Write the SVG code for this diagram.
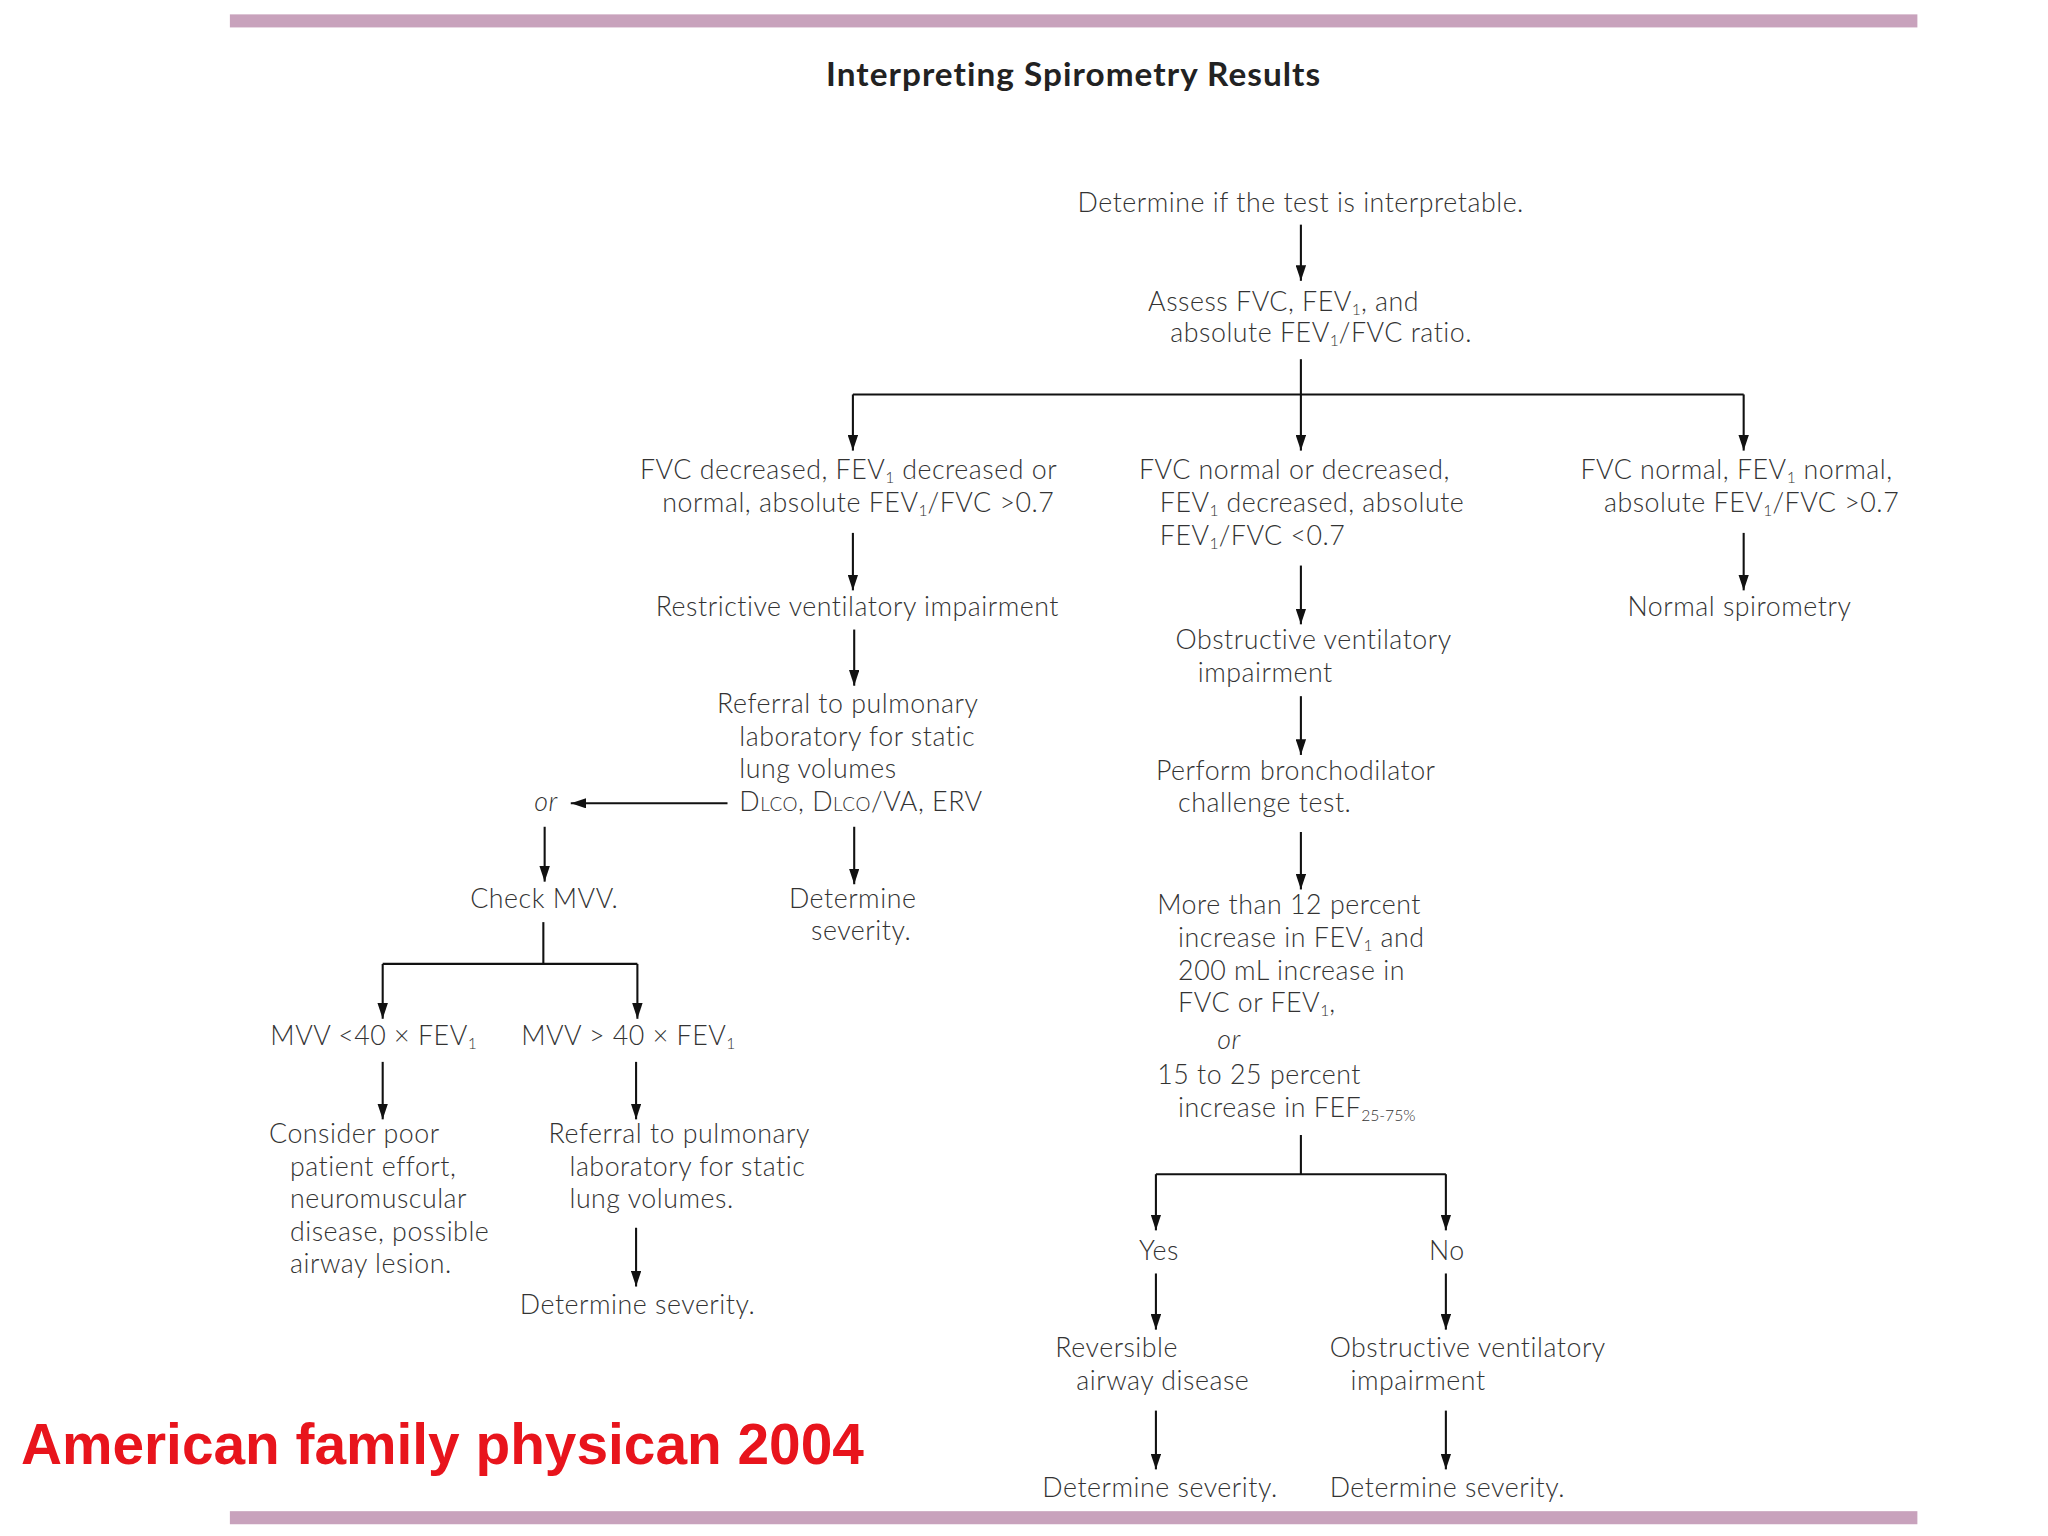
<svg xmlns="http://www.w3.org/2000/svg" width="2048" height="1536" viewBox="0 0 2048 1536">
<defs>
<marker id="ah" markerUnits="userSpaceOnUse" markerWidth="12" markerHeight="8" refX="12" refY="4" orient="auto">
<path d="M0,0 L12,4 L0,8 z" fill="#111"/>
</marker>
<style>
.t{font-family:Lato,"Liberation Sans",sans-serif;font-size:20.5px;letter-spacing:0.4px;font-weight:300;fill:#333}
.s{font-size:12px;letter-spacing:0}
.sc{font-size:14.5px}
.title{font-family:Lato,"Open Sans","Liberation Sans",sans-serif;font-size:25.5px;letter-spacing:0.8px;font-weight:bold;fill:#222}
.red{font-family:"Liberation Sans",Arial,sans-serif;font-size:43.5px;font-weight:bold;fill:#e8141c}
.c line{stroke:#111;stroke-width:1.6;fill:none}
.a{marker-end:url(#ah)}
</style>
</defs>
<rect width="2048" height="1536" fill="#fff"/>
<g transform="scale(1.30612)">
<rect x="176" y="11" width="1292" height="10" fill="#c8a2bc"/>
<rect x="176" y="1157" width="1292" height="10" fill="#c8a2bc"/>
<text class="title" x="822" y="66" text-anchor="middle">Interpreting Spirometry Results</text>
<text class="red" x="16" y="1121">American family physican 2004</text>

<g class="c" id="connectors">
<line class="a" x1="996" y1="172" x2="996" y2="215"/>
<line x1="996" y1="275" x2="996" y2="302"/>
<line class="a" x1="996" y1="302" x2="996" y2="345"/>
<line x1="653" y1="302" x2="1335" y2="302"/>
<line class="a" x1="653" y1="302" x2="653" y2="345"/>
<line class="a" x1="1335" y1="302" x2="1335" y2="345"/>
<line class="a" x1="653" y1="408" x2="653" y2="452"/>
<line class="a" x1="996" y1="433" x2="996" y2="478"/>
<line class="a" x1="1335" y1="408" x2="1335" y2="452"/>
<line class="a" x1="654" y1="482" x2="654" y2="525"/>
<line class="a" x1="557" y1="615" x2="437" y2="615"/>
<line class="a" x1="417" y1="633" x2="417" y2="675"/>
<line class="a" x1="654" y1="633" x2="654" y2="677"/>
<line class="a" x1="996" y1="533" x2="996" y2="578"/>
<line class="a" x1="996" y1="637" x2="996" y2="681"/>
<line x1="416" y1="706" x2="416" y2="738"/>
<line x1="293" y1="738" x2="488" y2="738"/>
<line class="a" x1="293" y1="738" x2="293" y2="780"/>
<line class="a" x1="488" y1="738" x2="488" y2="780"/>
<line class="a" x1="293" y1="813" x2="293" y2="857"/>
<line class="a" x1="487" y1="813" x2="487" y2="857"/>
<line class="a" x1="487" y1="940" x2="487" y2="985"/>
<line x1="996" y1="869" x2="996" y2="899"/>
<line x1="885" y1="899" x2="1107" y2="899"/>
<line class="a" x1="885" y1="899" x2="885" y2="942"/>
<line class="a" x1="1107" y1="899" x2="1107" y2="942"/>
<line class="a" x1="885" y1="975" x2="885" y2="1018"/>
<line class="a" x1="1107" y1="975" x2="1107" y2="1018"/>
<line class="a" x1="885" y1="1080" x2="885" y2="1125"/>
<line class="a" x1="1107" y1="1080" x2="1107" y2="1125"/>
</g>

<g id="n-interpretable"><text class="t" x="825" y="162">Determine if the test is interpretable.</text></g>
<g id="n-assess">
<text class="t" x="879" y="238">Assess FVC, FEV<tspan class="s" dy="3">1</tspan><tspan dy="-3">, and</tspan></text>
<text class="t" x="896" y="262">absolute FEV<tspan class="s" dy="3">1</tspan><tspan dy="-3">/FVC ratio.</tspan></text>
</g>
<g id="n-restrictive-cond">
<text class="t" x="490" y="367">FVC decreased, FEV<tspan class="s" dy="3">1</tspan><tspan dy="-3"> decreased or</tspan></text>
<text class="t" x="507" y="392">normal, absolute FEV<tspan class="s" dy="3">1</tspan><tspan dy="-3">/FVC &gt;0.7</tspan></text>
</g>
<g id="n-obstructive-cond">
<text class="t" x="872" y="367">FVC normal or decreased,</text>
<text class="t" x="888" y="392">FEV<tspan class="s" dy="3">1</tspan><tspan dy="-3"> decreased, absolute</tspan></text>
<text class="t" x="888" y="417">FEV<tspan class="s" dy="3">1</tspan><tspan dy="-3">/FVC &lt;0.7</tspan></text>
</g>
<g id="n-normal-cond">
<text class="t" x="1210" y="367">FVC normal, FEV<tspan class="s" dy="3">1</tspan><tspan dy="-3"> normal,</tspan></text>
<text class="t" x="1228" y="392">absolute FEV<tspan class="s" dy="3">1</tspan><tspan dy="-3">/FVC &gt;0.7</tspan></text>
</g>
<g id="n-restrictive"><text class="t" x="502" y="472">Restrictive ventilatory impairment</text></g>
<g id="n-obstructive">
<text class="t" x="900" y="497">Obstructive ventilatory</text>
<text class="t" x="917" y="522">impairment</text>
</g>
<g id="n-normal"><text class="t" x="1246" y="472">Normal spirometry</text></g>
<g id="n-referral1">
<text class="t" x="549" y="546">Referral to pulmonary</text>
<text class="t" x="566" y="571">laboratory for static</text>
<text class="t" x="566" y="596">lung volumes</text>
<text class="t" x="566" y="621">D<tspan class="sc">LCO</tspan>, D<tspan class="sc">LCO</tspan>/VA, ERV</text>
</g>
<g id="n-or1"><text class="t" x="409" y="621" font-style="italic">or</text></g>
<g id="n-checkmvv"><text class="t" x="360" y="695">Check MVV.</text></g>
<g id="n-severity1">
<text class="t" x="604" y="695">Determine</text>
<text class="t" x="621" y="720">severity.</text>
</g>
<g id="n-bronchodilator">
<text class="t" x="885" y="597">Perform bronchodilator</text>
<text class="t" x="902" y="622">challenge test.</text>
</g>
<g id="n-criteria">
<text class="t" x="886" y="700">More than 12 percent</text>
<text class="t" x="902" y="725">increase in FEV<tspan class="s" dy="3">1</tspan><tspan dy="-3"> and</tspan></text>
<text class="t" x="902" y="750">200 mL increase in</text>
<text class="t" x="902" y="775">FVC or FEV<tspan class="s" dy="3">1</tspan><tspan dy="-3">,</tspan></text>
<text class="t" x="932" y="803" font-style="italic">or</text>
<text class="t" x="886" y="830">15 to 25 percent</text>
<text class="t" x="902" y="855">increase in FEF<tspan class="s" dy="3">25-75%</tspan></text>
</g>
<g id="n-mvvlow"><text class="t" x="207" y="800">MVV &lt;40 × FEV<tspan class="s" dy="3">1</tspan></text></g>
<g id="n-mvvhigh"><text class="t" x="399" y="800">MVV &gt; 40 × FEV<tspan class="s" dy="3">1</tspan></text></g>
<g id="n-consider">
<text class="t" x="206" y="875">Consider poor</text>
<text class="t" x="222" y="900">patient effort,</text>
<text class="t" x="222" y="925">neuromuscular</text>
<text class="t" x="222" y="950">disease, possible</text>
<text class="t" x="222" y="975">airway lesion.</text>
</g>
<g id="n-referral2">
<text class="t" x="420" y="875">Referral to pulmonary</text>
<text class="t" x="436" y="900">laboratory for static</text>
<text class="t" x="436" y="925">lung volumes.</text>
</g>
<g id="n-severity2"><text class="t" x="398" y="1006">Determine severity.</text></g>
<g id="n-yes"><text class="t" x="872" y="965">Yes</text></g>
<g id="n-no"><text class="t" x="1094" y="965">No</text></g>
<g id="n-reversible">
<text class="t" x="808" y="1039">Reversible</text>
<text class="t" x="824" y="1064">airway disease</text>
</g>
<g id="n-obstructive2">
<text class="t" x="1018" y="1039">Obstructive ventilatory</text>
<text class="t" x="1034" y="1064">impairment</text>
</g>
<g id="n-severity3"><text class="t" x="798" y="1146">Determine severity.</text></g>
<g id="n-severity4"><text class="t" x="1018" y="1146">Determine severity.</text></g>
</g>
</svg>
